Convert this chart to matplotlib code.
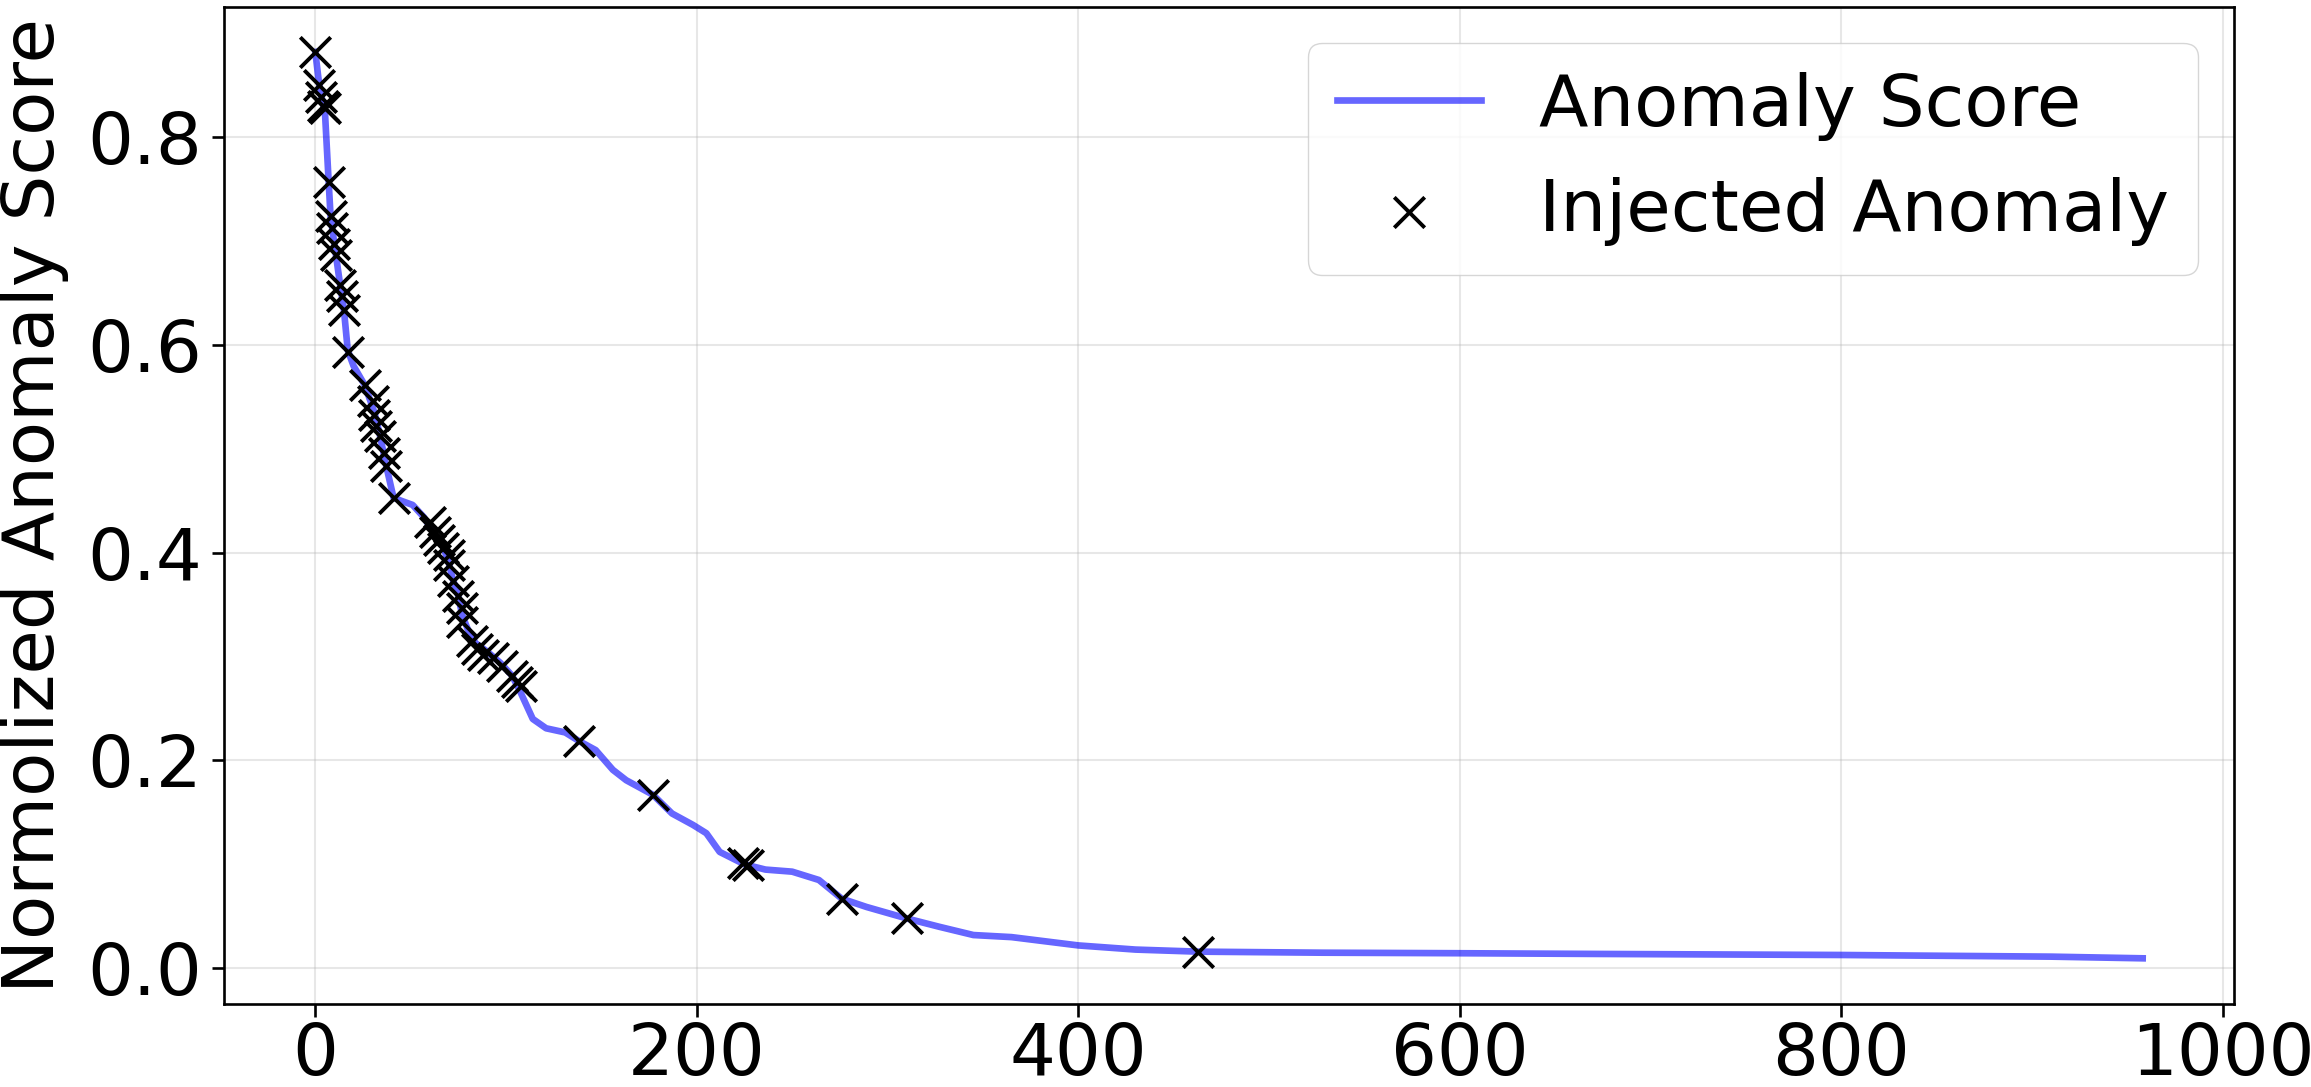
import numpy as np
import matplotlib
matplotlib.use("Agg")
import matplotlib.pyplot as plt

# sorted anomaly score curve (rank, score)
score_rank = [0, 2, 4, 5, 7, 8, 10, 13, 15, 17, 20, 26, 31, 34, 37, 41, 45, 51, 57,
              62, 67, 70, 72, 75, 77, 80, 84, 90, 97, 103, 107, 110, 114, 121, 131,
              138, 147, 156, 163, 177, 187, 198, 205, 212, 225, 236, 250, 264, 276,
              289, 310, 327, 345, 365, 400, 430, 463, 528, 599, 673, 800, 910, 958]
score_value = [0.882, 0.851, 0.832, 0.826, 0.757, 0.724, 0.697, 0.658, 0.634, 0.595,
               0.580, 0.561, 0.535, 0.512, 0.485, 0.453, 0.450, 0.446, 0.434, 0.419,
               0.406, 0.390, 0.375, 0.358, 0.340, 0.326, 0.313, 0.305, 0.294, 0.282,
               0.268, 0.256, 0.240, 0.231, 0.227, 0.219, 0.210, 0.191, 0.181, 0.167,
               0.149, 0.138, 0.130, 0.112, 0.100, 0.095, 0.093, 0.085, 0.067, 0.059,
               0.048, 0.040, 0.032, 0.030, 0.022, 0.018, 0.016, 0.015, 0.0145, 0.0138,
               0.0128, 0.0112, 0.0096]

# injected anomalies (rank, score)
anom_rank = [0, 2, 3, 4, 5, 7, 8, 9, 10, 11, 13, 14, 15, 17,
             26, 30, 31, 32, 34, 36, 37, 41,
             60, 63, 65, 67, 70, 70, 72, 75, 77, 77, 82, 85, 88, 93, 98, 103, 106, 108,
             138, 177, 224, 227, 276, 310, 463]
anom_value = [0.882, 0.850, 0.839, 0.830, 0.828, 0.757, 0.724, 0.713, 0.697, 0.687,
              0.658, 0.647, 0.634, 0.593,
              0.561, 0.546, 0.533, 0.522, 0.512, 0.496, 0.483, 0.453,
              0.430, 0.420, 0.412, 0.405, 0.398, 0.388, 0.373, 0.358, 0.347, 0.333,
              0.315, 0.307, 0.302, 0.299, 0.291, 0.281, 0.276, 0.272,
              0.219, 0.167, 0.101, 0.099, 0.067, 0.048, 0.0157]

plt.rcParams['font.size'] = 52

fig = plt.figure(figsize=(23.11, 10.87), dpi=100)
ax = fig.add_axes([0.0969, 0.0767, 0.8698, 0.9172])

ax.plot(score_rank, score_value, color='blue', alpha=0.6, lw=4.8, label='Anomaly Score')
ax.scatter(anom_rank, anom_value, marker='x', color='black', s=480, linewidths=2.8,
           label='Injected Anomaly', zorder=3)

ax.set_ylabel('Normolized Anomaly Score', labelpad=13)
ax.grid(alpha=0.3, lw=1.5)
ax.tick_params(length=9, width=1.9, pad=7)
ax.tick_params(axis='x', pad=3.5)
for sp in ax.spines.values():
    sp.set_linewidth(1.9)
ax.legend(loc='upper right', fontsize=52)

fig.savefig('out.png', dpi=100)
